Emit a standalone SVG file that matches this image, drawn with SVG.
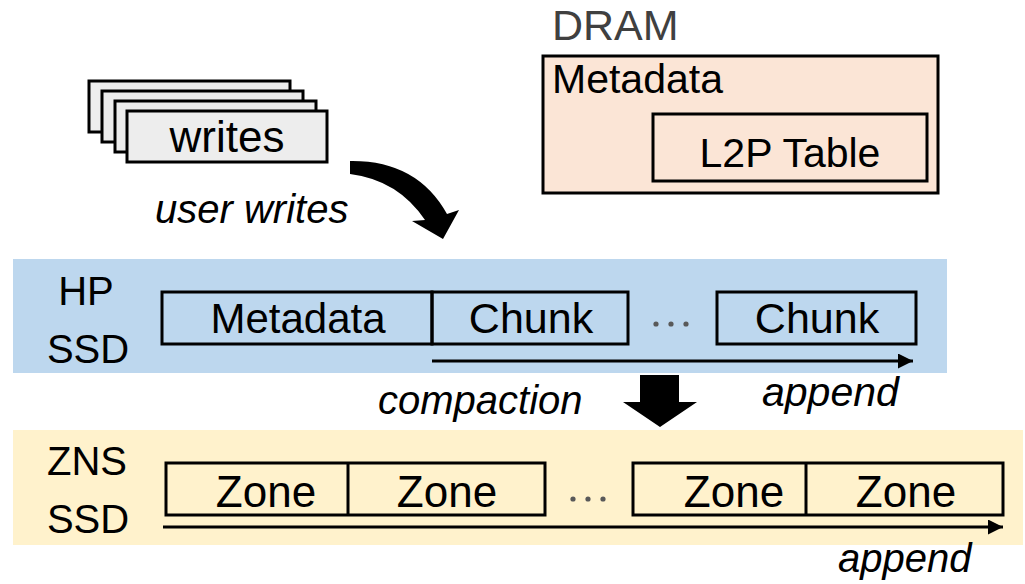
<svg xmlns="http://www.w3.org/2000/svg" width="1025" height="584" viewBox="0 0 1025 584">
<defs>
<style>
text{font-family:"Liberation Sans",Arial,sans-serif;fill:#000}
.lbl{font-size:42px}
.it{font-size:40px;font-style:italic}
.box{fill:none;stroke:#000;stroke-width:3}
.wbox{fill:#EDEDED;stroke:#000;stroke-width:3}
.line{stroke:#000;stroke-width:3;fill:none}
.dot{fill:#595959}
</style>
<marker id="ah" viewBox="0 0 10 10" refX="10" refY="5" markerWidth="5.5" markerHeight="5" markerUnits="strokeWidth" orient="auto">
<path d="M0,0 L10,5 L0,10 Z" fill="#000"/>
</marker>
</defs>

<rect x="13" y="259" width="934" height="114" fill="#BDD7EE"/>
<rect x="13" y="430" width="1010" height="115" fill="#FFF2CC"/>

<g id="writes">
<rect class="wbox" x="89" y="81" width="201" height="51"/>
<rect class="wbox" x="102" y="91" width="201" height="51"/>
<rect class="wbox" x="115" y="101" width="201" height="51"/>
<rect class="wbox" x="127" y="111" width="200" height="51"/>
<text class="lbl" x="227" y="152" text-anchor="middle" style="font-size:44px">writes</text>
</g>

<g id="dram">
<text x="552" y="40" style="font-size:43px;fill:#404040">DRAM</text>
<rect x="543" y="56" width="395" height="137" fill="#FBE5D6" stroke="#000" stroke-width="3"/>
<text class="lbl" x="552" y="93" style="font-size:41px">Metadata</text>
<rect class="box" x="653" y="114" width="274" height="67"/>
<text class="lbl" x="790" y="167" text-anchor="middle" style="font-size:41px">L2P Table</text>
</g>

<g id="hp-ssd">
<text class="lbl" x="86" y="305" text-anchor="middle" style="font-size:40px">HP</text>
<text class="lbl" x="88" y="363" text-anchor="middle" style="font-size:40px">SSD</text>
<rect class="box" x="162" y="292" width="270" height="52"/>
<text class="lbl" x="298" y="333" text-anchor="middle">Metadata</text>
<rect class="box" x="432" y="292" width="196" height="52"/>
<text class="lbl" x="531" y="333" text-anchor="middle" style="font-size:43px">Chunk</text>
<circle class="dot" cx="656" cy="324" r="2.6"/>
<circle class="dot" cx="671" cy="324" r="2.6"/>
<circle class="dot" cx="686" cy="324" r="2.6"/>
<rect class="box" x="717" y="292" width="199" height="52"/>
<text class="lbl" x="817" y="333" text-anchor="middle" style="font-size:43px">Chunk</text>
</g>

<g id="zns-ssd">
<text class="lbl" x="87" y="475" text-anchor="middle" style="font-size:40px">ZNS</text>
<text class="lbl" x="88" y="533" text-anchor="middle" style="font-size:40px">SSD</text>
<rect class="box" x="166" y="463" width="379" height="52"/>
<line class="line" x1="348" y1="463" x2="348" y2="515"/>
<text class="lbl" x="266" y="507" text-anchor="middle" style="font-size:44px">Zone</text>
<text class="lbl" x="447" y="507" text-anchor="middle" style="font-size:44px">Zone</text>
<circle class="dot" cx="573" cy="499" r="2.6"/>
<circle class="dot" cx="588" cy="499" r="2.6"/>
<circle class="dot" cx="603" cy="499" r="2.6"/>
<rect class="box" x="633" y="463" width="370" height="52"/>
<line class="line" x1="806" y1="463" x2="806" y2="515"/>
<text class="lbl" x="734" y="507" text-anchor="middle" style="font-size:44px">Zone</text>
<text class="lbl" x="906" y="507" text-anchor="middle" style="font-size:44px">Zone</text>
</g>

<g id="connectors">
<path d="M350,161 Q417,160 447,214 L459,210 L443,239 L412,221 L425,220 Q398,180 350,174 Z" fill="#000"/>
<text class="it" x="155" y="223">user writes</text>
<line class="line" x1="432" y1="361" x2="913" y2="361" marker-end="url(#ah)"/>
<text class="it" x="762" y="406" style="font-size:41px">append</text>
<path d="M640,375 L679,375 L679,402 L697,402 L660,427 L623,402 L640,402 Z" fill="#000"/>
<text class="it" x="378" y="414">compaction</text>
<line class="line" x1="163" y1="527" x2="1003" y2="527" marker-end="url(#ah)"/>
<text class="it" x="838" y="572">append</text>
</g>
</svg>
